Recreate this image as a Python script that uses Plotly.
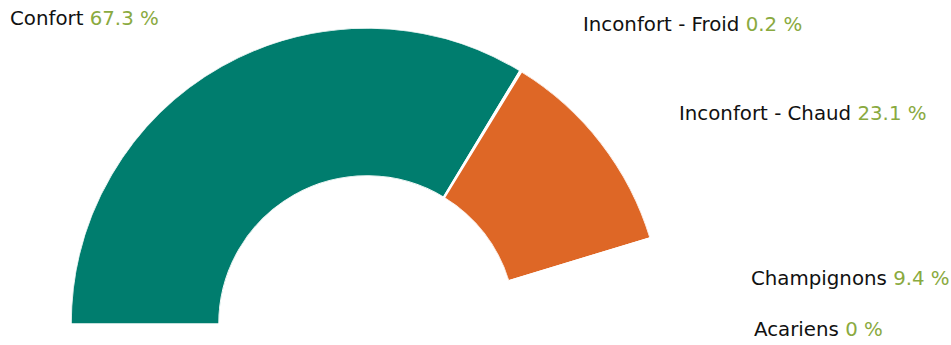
import plotly.graph_objects as go

# Humidity / comfort breakdown (percent of time)
labels = ["Confort", "Inconfort - Froid", "Inconfort - Chaud", "Champignons", "Acariens"]
values = [67.3, 0.2, 23.1, 9.4, 0]
colors = ["#007D6E", "#FFFFFF", "#DE6726", "#FFFFFF", "#FFFFFF"]

VALUE_COLOR = "#8AAA3F"
FONT = "DejaVu Sans"

# label anchor points (left edge px, vertical centre px)
label_pos = [(8, 19), (581, 24.5), (677, 113.5), (749, 278.5), (752, 329.5)]

W, H = 951, 345

# convert shares to angular spans on a half circle (100 % = 180 deg)
spans = [v * 1.8 for v in values]
centers = []
acc = 0.0
for s in spans:
    centers.append(acc + s / 2)
    acc += s

fig = go.Figure()
fig.add_trace(go.Barpolar(
    r=[1] * len(values),
    theta=centers,
    width=spans,
    marker=dict(color=colors, line=dict(color="white", width=1.5)),
    hoverinfo="skip",
    showlegend=False,
))

for (lab, val), (px, py) in zip(zip(labels, values), label_pos):
    fig.add_annotation(
        xref="paper", yref="paper",
        x=px / W, y=(H - py) / H,
        xanchor="left", yanchor="middle",
        showarrow=False,
        text=f"{lab} <span style='color:{VALUE_COLOR}'>{val:g} %</span>",
        font=dict(family=FONT, size=19.8, color="#111111"),
    )

cx, R, yb = 367, 296, 324
fig.update_layout(
    width=W, height=H,
    margin=dict(l=0, r=0, t=0, b=0),
    paper_bgcolor="white",
    polar=dict(
        domain=dict(x=[(cx - R) / W, (cx + R) / W], y=[(H - yb) / H, (H - yb + R) / H]),
        sector=[0, 180],
        hole=0.5,
        bgcolor="white",
        radialaxis=dict(range=[0, 1], visible=False, showgrid=False),
        angularaxis=dict(rotation=180, direction="clockwise", visible=False,
                         showgrid=False, showline=False, ticks=""),
    ),
)

fig.write_html("out.html")
